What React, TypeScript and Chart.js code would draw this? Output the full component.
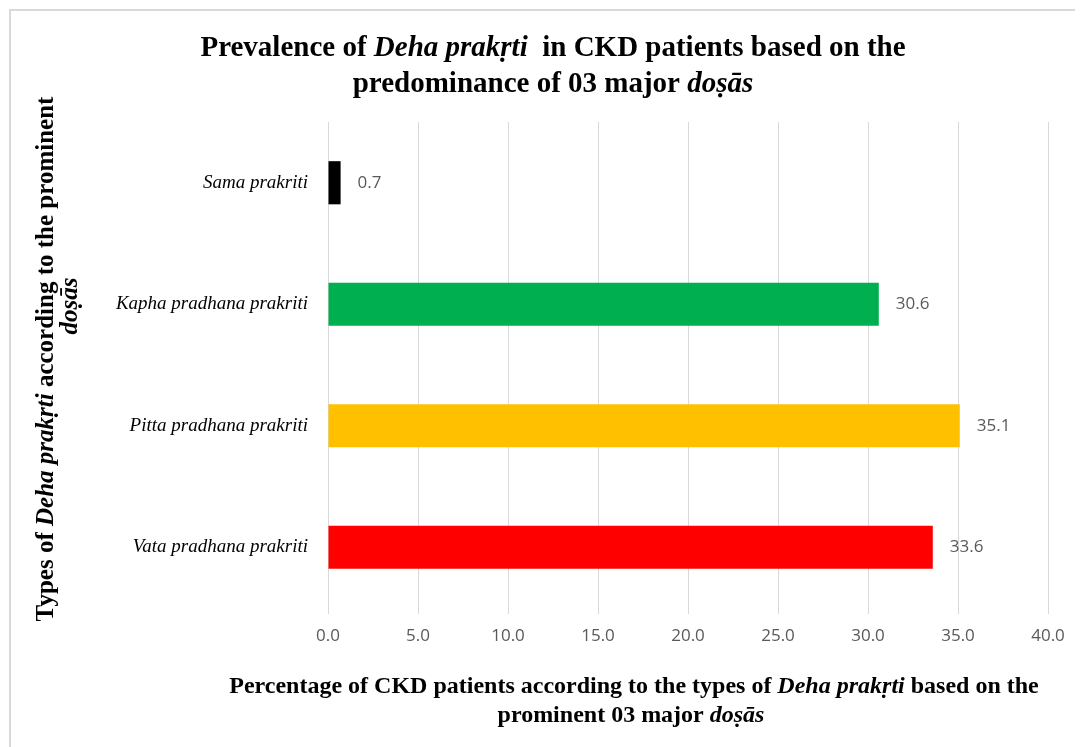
import React, { useEffect, useRef } from "react";
import { Chart, registerables } from "chart.js";

Chart.register(...registerables);

type Seg = [string, boolean];

const categories: string[] = [
  "Sama prakriti",
  "Kapha pradhana prakriti",
  "Pitta pradhana prakriti",
  "Vata pradhana prakriti",
];
const percentages: number[] = [0.7, 30.6, 35.1, 33.6];
const barColors: string[] = ["#000000", "#00B050", "#FFC000", "#FF0000"];
const xTicksMin = 0;
const xTicksMax = 40;
const xTickStep = 5;

const titleLines: Seg[][] = [
  [["Prevalence of ", false], ["Deha prakṛti", true], ["  in CKD patients based on the", false]],
  [["predominance of 03 major ", false], ["doṣās", true]],
];
const xTitleLines: Seg[][] = [
  [["Percentage of CKD patients according to the types of ", false], ["Deha prakṛti", true], [" based on the", false]],
  [["prominent 03 major ", false], ["doṣās", true]],
];
const yTitleLine1: Seg[] = [["Types of ", false], ["Deha prakṛti", true], [" according to the prominent", false]];
const yTitleLine2: Seg[] = [["doṣās", true]];

const SERIF = '"Liberation Serif", "Times New Roman", serif';

function drawRich(ctx: CanvasRenderingContext2D, segs: Seg[], cx: number, cy: number, size: number) {
  const fontFor = (it: boolean) => `${it ? "italic " : ""}bold ${size}px ${SERIF}`;
  let total = 0;
  for (const [t, it] of segs) {
    ctx.font = fontFor(it);
    total += ctx.measureText(t).width;
  }
  let x = cx - total / 2;
  ctx.textBaseline = "middle";
  ctx.textAlign = "left";
  ctx.fillStyle = "#000000";
  for (const [t, it] of segs) {
    ctx.font = fontFor(it);
    ctx.fillText(t, x, cy);
    x += ctx.measureText(t).width;
  }
}

const framePlugin = {
  id: "frame",
  beforeDraw(chart: any) {
    const ctx = chart.ctx as CanvasRenderingContext2D;
    ctx.save();
    ctx.fillStyle = "#ffffff";
    ctx.fillRect(0, 0, chart.width, chart.height);
    ctx.strokeStyle = "#d9d9d9";
    ctx.lineWidth = 2;
    ctx.beginPath();
    ctx.moveTo(2, chart.height);
    ctx.lineTo(2, 2);
    ctx.lineTo(chart.width, 2);
    ctx.stroke();
    ctx.restore();
  },
};

const textPlugin = {
  id: "richTexts",
  afterDraw(chart: any) {
    const ctx = chart.ctx as CanvasRenderingContext2D;
    ctx.save();
    // chart title
    drawRich(ctx, titleLines[0], 545, 41, 29);
    drawRich(ctx, titleLines[1], 545, 77, 29);
    // x axis title
    drawRich(ctx, xTitleLines[0], 626, 679, 24);
    drawRich(ctx, xTitleLines[1], 623, 708, 24);
    // y axis title
    ctx.save();
    ctx.translate(39, 351);
    ctx.rotate(-Math.PI / 2);
    drawRich(ctx, yTitleLine1, 0, 0, 25);
    ctx.restore();
    ctx.save();
    ctx.translate(63, 298);
    ctx.rotate(-Math.PI / 2);
    drawRich(ctx, yTitleLine2, 0, 0, 25);
    ctx.restore();
    ctx.restore();
  },
};

const valueLabelPlugin = {
  id: "valueLabels",
  afterDatasetsDraw(chart: any) {
    const ctx = chart.ctx as CanvasRenderingContext2D;
    const meta = chart.getDatasetMeta(0);
    const data = chart.data.datasets[0].data as number[];
    ctx.save();
    ctx.font = '17px "Open Sans", sans-serif';
    ctx.fillStyle = "#595959";
    ctx.textAlign = "left";
    ctx.textBaseline = "middle";
    meta.data.forEach((bar: any, i: number) => {
      ctx.fillText(data[i].toFixed(1), bar.x + 17, bar.y);
    });
    ctx.restore();
  },
};

export default function App() {
  const canvasRef = useRef<HTMLCanvasElement | null>(null);

  useEffect(() => {
    if (!canvasRef.current) return;
    const chart = new Chart(canvasRef.current, {
      type: "bar",
      data: {
        labels: categories,
        datasets: [
          {
            data: percentages,
            backgroundColor: barColors,
            borderWidth: 0,
            categoryPercentage: 1,
            barPercentage: 0.355,
          },
        ],
      },
      options: {
        indexAxis: "y",
        animation: false,
        responsive: false,
        maintainAspectRatio: false,
        layout: { padding: { top: 114, right: 35, left: 0, bottom: 0 } },
        plugins: {
          legend: { display: false },
          tooltip: { enabled: false },
          title: { display: false },
        },
        scales: {
          x: {
            min: xTicksMin,
            max: xTicksMax,
            ticks: {
              stepSize: xTickStep,
              padding: 12,
              color: "#595959",
              font: { family: '"Open Sans", sans-serif', size: 17 },
              callback: (v: any) => Number(v).toFixed(1),
            },
            grid: { color: "#d9d9d9", lineWidth: 1, drawTicks: true, tickLength: 6 },
            border: { display: false },
            afterFit: (scale: any) => {
              scale.height = 139;
            },
          },
          y: {
            ticks: {
              padding: 20,
              color: "#000000",
              font: { family: SERIF, size: 19, style: "italic" },
            },
            grid: { display: false, drawTicks: false },
            border: { display: true, color: "#d9d9d9", width: 1 },
            afterFit: (scale: any) => {
              scale.width = 320;
            },
          },
        },
      },
      plugins: [framePlugin, textPlugin, valueLabelPlugin],
    });
    return () => chart.destroy();
  }, []);

  return (
    <div style={{ width: 1075, height: 739 }}>
      <canvas ref={canvasRef} width={1075} height={739} style={{ display: "block" }} />
    </div>
  );
}
